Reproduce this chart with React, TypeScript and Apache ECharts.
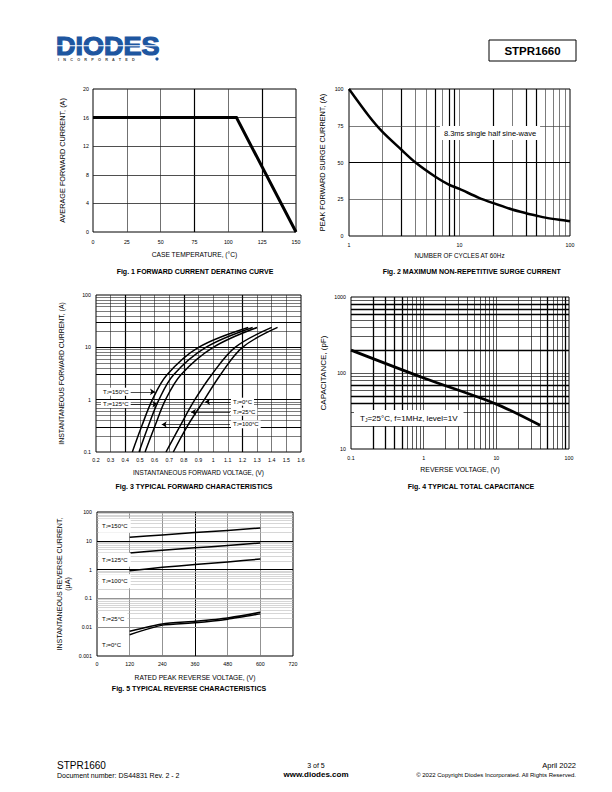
import React, { useEffect, useRef } from "react";
import * as echarts from "echarts";

const FONT = '"Liberation Sans", Arial, Helvetica, sans-serif';

// ---------- Fig. 1 Forward current derating curve ----------
const fig1Temperature = [0, 106, 150];
const fig1Current = [16, 16, 0];

// ---------- Fig. 2 Maximum non-repetitive surge current ----------
const fig2Cycles = [1, 1.5, 2, 3, 4, 6, 8, 10, 15, 20, 30, 40, 50, 60, 80, 100];
const fig2Current = [100, 82, 71, 58.5, 50, 40.5, 35, 32, 26, 22.5, 18, 15.5, 13.8, 12.5, 11, 10];

// ---------- Fig. 3 Typical forward characteristics ----------
const fig3Current = [0.1, 0.3, 1, 3, 10, 24];
const fig3V150 = [0.448, 0.51, 0.585, 0.685, 0.9, 1.24];
const fig3V125 = [0.494, 0.555, 0.63, 0.73, 0.95, 1.27];
const fig3V100 = [0.535, 0.6, 0.675, 0.78, 1.0, 1.3];
const fig3V25 = [0.678, 0.77, 0.875, 0.99, 1.15, 1.4];
const fig3V0 = [0.728, 0.82, 0.94, 1.05, 1.2, 1.44];
const fig3LabelTemps = ["150", "125", "0", "25", "100"];
const fig3ArrowFrom = [0.42, 0.415, 1.115, 1.115, 1.115];
const fig3ArrowTo = [0.603, 0.619, 0.945, 0.849, 0.649];
const fig3ArrowCurrent = [1.41, 0.82, 0.91, 0.58, 0.335];

// ---------- Fig. 4 Typical total capacitance ----------
const fig4Voltage = [0.1, 1, 10, 40];
const fig4Capacitance = [200, 86, 39, 20.5];

// ---------- Fig. 5 Typical reverse characteristics ----------
const fig5Voltage = [120, 240, 360, 480, 600];
const fig5I150 = [13.2, 16, 19.3, 23, 27.8];
const fig5I125 = [3.75, 4.7, 5.7, 6.9, 8.4];
const fig5I100 = [0.92, 1.2, 1.5, 1.85, 2.33];
const fig5I25 = [0.0072, 0.0129, 0.016, 0.021, 0.033];
const fig5I0 = [0.0055, 0.0118, 0.0143, 0.019, 0.029];
const fig5LabelTemps = ["150", "125", "100", "25", "0"];

// ---------- grid line positions ----------
const decadeMinors = (from: number, to: number) => {
  const out: number[] = [];
  for (let e = from; e < to; e++) for (let k = 2; k <= 9; k++) out.push(k * Math.pow(10, e));
  return out;
};
const fig1GridX = [25, 50, 75, 100, 125];
const fig1GridXBold = [75, 125];
const fig1GridY = [4, 8, 12, 16];
const fig2GridX = [...decadeMinors(0, 2), 10];
const fig2GridXBold = [3, 6, 8, 9, 20, 40, 50];
const fig2GridY = [25, 50, 75];
const fig2GridYBold = [50];
const fig3GridX = [0.3, 0.4, 0.5, 0.6, 0.7, 0.8, 0.9, 1.0, 1.1, 1.2, 1.3, 1.4, 1.5];
const fig3GridXBold = [0.4, 0.8, 1.2];
const fig3GridY = [...decadeMinors(-1, 2), 1, 10];
const fig3GridYBold = [0.3, 1, 3, 10, 30];
const fig4GridX = [...decadeMinors(-1, 2), 1, 10];
const fig4GridXBold = [0.2, 0.3, 0.4, 0.5, 50, 90];
const fig4GridY = [...decadeMinors(1, 3), 100];
const fig4GridYBold = [40, 50, 70, 200, 600, 700, 800];
const fig5GridX = [120, 240, 360, 480, 600];
const fig5GridXBold = [360];
const fig5GridY = [...decadeMinors(-3, 2), 0.01, 0.1, 1, 10];
const fig5GridYBold = [1, 10];
const fig5GridYMid = [0.01, 0.1];

const zip = (xs: number[], ys: number[]) => xs.map((x, i) => [x, ys[i]]);
const has = (arr: number[], v: number) =>
  arr.some((b) => Math.abs(b - v) < 1e-9 * Math.max(1, Math.abs(v)));

type LS = { color: string; width: number; type: "solid" };
const ls = (color: string, width: number): LS => ({ color, width, type: "solid" });

function gridSeries(idx: number, xs: number[], ys: number[], styleX: (v: number) => LS, styleY: (v: number) => LS) {
  return {
    type: "line",
    xAxisIndex: idx,
    yAxisIndex: idx,
    data: [],
    silent: true,
    z: 1,
    markLine: {
      silent: true,
      animation: false,
      symbol: ["none", "none"],
      label: { show: false },
      emphasis: { disabled: true },
      z: 1,
      data: [
        ...xs.map((v) => ({ xAxis: v, lineStyle: styleX(v) })),
        ...ys.map((v) => ({ yAxis: v, lineStyle: styleY(v) })),
      ],
    },
  };
}

function curve(idx: number, data: number[][], width: number, smooth: number | boolean) {
  return {
    type: "line",
    xAxisIndex: idx,
    yAxisIndex: idx,
    data,
    symbol: "none",
    showSymbol: false,
    smooth,
    silent: true,
    z: 3,
    lineStyle: { color: "#000", width, cap: "butt", join: "miter" },
  };
}

const plainNumber = (v: number) => String(+Number(v).toPrecision(6));

const tickLabel = (margin: number) => ({
  fontSize: 5.3,
  color: "#000",
  fontFamily: FONT,
  margin,
  formatter: plainNumber,
});

function xAx(idx: number, extra: any, name: string, nameGap: number, nameSize: number, margin: number) {
  return {
    gridIndex: idx,
    axisLine: { show: false },
    axisTick: { show: false },
    splitLine: { show: false },
    axisLabel: { ...tickLabel(margin), interval: 0, hideOverlap: false },
    name,
    nameLocation: "middle",
    nameGap,
    nameMoveOverlap: false,
    nameTextStyle: { fontSize: nameSize, color: "#000", fontFamily: FONT },
    ...extra,
  };
}
function yAx(idx: number, extra: any, name: string, nameGap: number, nameSize: number, margin: number) {
  return {
    gridIndex: idx,
    axisLine: { show: false },
    axisTick: { show: false },
    splitLine: { show: false },
    axisLabel: { ...tickLabel(margin), interval: 0, hideOverlap: false },
    name,
    nameLocation: "middle",
    nameGap,
    nameMoveOverlap: false,
    nameTextStyle: { fontSize: nameSize, color: "#000", fontFamily: FONT, lineHeight: nameSize + 1 },
    ...extra,
  };
}

const tj = (t: string, size: number) => ({
  text: `{t|T}{s|J}{t|=${t}°C}`,
  rich: {
    t: { fontSize: size, fontFamily: FONT, fill: "#000", verticalAlign: "bottom" },
    s: { fontSize: size * 0.6, fontFamily: FONT, fill: "#000", verticalAlign: "bottom" },
  },
});

function txt(x: number, y: number, text: string, size: number, align = "center", weight = "normal", extra: any = {}) {
  return {
    type: "text",
    x,
    y,
    z: 50,
    silent: true,
    style: {
      text,
      fontSize: size,
      fontWeight: weight,
      fontFamily: FONT,
      fill: "#000",
      align,
      verticalAlign: "middle",
      ...extra,
    },
  };
}

function buildOption() {
  const gridBase = {
    show: true,
    borderColor: "#000",
    borderWidth: 1,
    backgroundColor: "transparent",
    containLabel: false,
    outerBoundsMode: "none",
  };

  const fig3Series = [fig3V150, fig3V125, fig3V100, fig3V25, fig3V0].map((vs) =>
    curve(2, zip(vs, fig3Current), 1.5, 0.35)
  );
  const fig5Series = [fig5I150, fig5I125, fig5I100, fig5I25, fig5I0].map((is) =>
    curve(4, zip(fig5Voltage, is), 1.5, 0.2)
  );

  const fig3Arrows = {
    type: "line",
    xAxisIndex: 2,
    yAxisIndex: 2,
    data: [],
    silent: true,
    z: 4,
    markLine: {
      silent: true,
      animation: false,
      label: { show: false },
      emphasis: { disabled: true },
      symbol: ["none", "arrow"],
      symbolSize: 5,
      lineStyle: { color: "#000", width: 0.7, type: "solid" },
      itemStyle: { color: "#000" },
      z: 4,
      data: fig3ArrowFrom.map((f, i) => [
        { coord: [f, fig3ArrowCurrent[i]] },
        { coord: [fig3ArrowTo[i], fig3ArrowCurrent[i]] },
      ]),
    },
  };

  const fig3LabelPos = [
    [101, 391.7],
    [101, 404],
    [231, 401.7],
    [231, 411.7],
    [231, 424.3],
  ];
  const fig5LabelY = [525.7, 559.7, 581.3, 619, 644.7];

  const labelBox = (x: number, y: number, t: string, size: number, pad: number[]) => ({
    type: "text",
    x,
    y,
    z: 50,
    silent: true,
    style: {
      ...tj(t, size),
      align: "left",
      verticalAlign: "middle",
      backgroundColor: "#fff",
      padding: pad,
    },
  });

  const logoColor = "#1e56a0";

  const graphics: any[] = [
    // logo
    {
      type: "text",
      x: 56,
      y: 46,
      z: 50,
      scaleX: 1.04,
      silent: true,
      style: {
        text: "DIODES",
        fontSize: 26,
        fontWeight: "bold",
        fontFamily: FONT,
        fill: logoColor,
        stroke: logoColor,
        lineWidth: 1.2,
        align: "left",
        verticalAlign: "middle",
      },
    },
    { type: "rect", z: 51, silent: true, shape: { x: 55, y: 45.2, width: 106, height: 1 }, style: { fill: "#fff" } },
    {
      type: "text",
      x: 58,
      y: 59.5,
      z: 50,
      silent: true,
      style: {
        text: "I    N    C    O    R    P    O    R    A    T    E    D",
        fontSize: 3.8,
        fontWeight: "bold",
        fontFamily: FONT,
        fill: "#444",
        align: "left",
        verticalAlign: "middle",
      },
    },
    { type: "circle", z: 50, silent: true, shape: { cx: 157, cy: 59, r: 1.6 }, style: { fill: logoColor } },
    // header box
    { type: "rect", z: 50, silent: true, shape: { x: 489, y: 40, width: 87, height: 21 }, style: { fill: "none", stroke: "#000", lineWidth: 1 } },
    txt(532.5, 50.8, "STPR1660", 11.5, "center", "bold"),
    // captions
    txt(195, 271, "Fig. 1 FORWARD CURRENT DERATING CURVE", 7, "center", "bold"),
    txt(471.7, 271, "Fig. 2 MAXIMUM NON-REPETITIVE SURGE CURRENT", 7, "center", "bold"),
    txt(194, 486.3, "Fig. 3 TYPICAL FORWARD CHARACTERISTICS", 7, "center", "bold"),
    txt(471, 486, "Fig. 4 TYPICAL TOTAL CAPACITANCE", 7, "center", "bold"),
    txt(189, 688, "Fig. 5 TYPICAL REVERSE CHARACTERISTICS", 7, "center", "bold"),
    // fig 2 note
    txt(490, 133, "8.3ms single half sine-wave", 7.5, "center", "normal", { backgroundColor: "#fff", padding: [3, 4] }),
    // fig 4 note
    {
      type: "text",
      x: 354,
      y: 418,
      z: 50,
      silent: true,
      style: {
        text: "{t|T}{s|J}{t|=25°C, f=1MHz, level=1V}",
        rich: {
          t: { fontSize: 8, fontFamily: FONT, fill: "#000", verticalAlign: "bottom" },
          s: { fontSize: 5, fontFamily: FONT, fill: "#000", verticalAlign: "bottom" },
        },
        align: "left",
        verticalAlign: "middle",
        backgroundColor: "#fff",
        padding: [4, 6],
      },
    },
    // fig 3 labels
    ...fig3LabelTemps.map((t, i) => labelBox(fig3LabelPos[i][0], fig3LabelPos[i][1], t, 6, [1, 2])),
    // fig 5 labels
    ...fig5LabelTemps.map((t, i) => labelBox(99, fig5LabelY[i], t, 6, [4, 3])),
    // footer
    txt(57, 765, "STPR1660", 10, "left"),
    txt(57, 775, "Document number: DS44831 Rev. 2 - 2", 7, "left"),
    txt(316, 765, "3 of 5", 7, "center"),
    txt(316, 774.5, "www.diodes.com", 8, "center", "bold"),
    txt(576, 765, "April 2022", 7.5, "right"),
    txt(576, 775, "© 2022 Copyright Diodes Incorporated. All Rights Reserved.", 6, "right"),
  ];

  return {
    animation: false,
    backgroundColor: "#fff",
    textStyle: { fontFamily: FONT },
    grid: [
      { ...gridBase, left: 93, top: 89, width: 203, height: 143 },
      { ...gridBase, left: 349, top: 89, width: 221, height: 147 },
      { ...gridBase, left: 96, top: 295, width: 205, height: 157 },
      { ...gridBase, left: 351, top: 297, width: 218, height: 152 },
      { ...gridBase, left: 97, top: 512, width: 196, height: 144 },
    ],
    xAxis: [
      xAx(0, { type: "value", min: 0, max: 150, interval: 25 }, "CASE TEMPERATURE, (°C)", 18.5, 6.7, 7.5),
      xAx(1, { type: "log", logBase: 10, min: 1, max: 100 }, "NUMBER OF CYCLES AT 60Hz", 16.5, 6.3, 6.5),
      xAx(2, { type: "value", min: 0.2, max: 1.6, interval: 0.1 }, "INSTANTANEOUS FORWARD VOLTAGE, (V)", 17.5, 6.4, 5),
      xAx(3, { type: "log", logBase: 10, min: 0.1, max: 100 }, "REVERSE VOLTAGE, (V)", 17, 6.9, 6.5),
      xAx(4, { type: "value", min: 0, max: 720, interval: 120 }, "RATED PEAK REVERSE VOLTAGE, (V)", 17.5, 6.7, 5.5),
    ],
    yAxis: [
      yAx(0, { type: "value", min: 0, max: 20, interval: 4 }, "AVERAGE FORWARD CURRENT, (A)", 26, 7.3, 4),
      yAx(1, { type: "value", min: 0, max: 100, interval: 25 }, "PEAK FORWARD SURGE CURRENT, (A)", 22, 7.3, 5.5),
      yAx(2, { type: "log", logBase: 10, min: 0.1, max: 100 }, "INSTANTANEOUS FORWARD CURRENT, (A)", 30.5, 6.9, 5),
      yAx(3, { type: "log", logBase: 10, min: 10, max: 1000 }, "CAPACITANCE, (pF)", 23, 8, 5),
      yAx(4, { type: "log", logBase: 10, min: 0.001, max: 100 }, "INSTANTANEOUS REVERSE CURRENT,\n(µA)", 25, 7.1, 5),
    ],
    series: [
      gridSeries(
        0,
        fig1GridX,
        fig1GridY,
        (v) => (has(fig1GridXBold, v) ? ls("#000", 1.2) : ls("#333", 0.7)),
        () => ls("#222", 0.8)
      ),
      gridSeries(
        1,
        fig2GridX,
        fig2GridY,
        (v) => (has(fig2GridXBold, v) ? ls("#000", 1.2) : ls("#444", 0.7)),
        (v) => (has(fig2GridYBold, v) ? ls("#000", 1.2) : ls("#444", 0.7))
      ),
      gridSeries(
        2,
        fig3GridX,
        fig3GridY,
        (v) => (has(fig3GridXBold, v) ? ls("#000", 1.2) : ls("#222", 0.6)),
        (v) => (has(fig3GridYBold, v) ? ls("#000", 1.2) : ls("#222", 0.6))
      ),
      gridSeries(
        3,
        fig4GridX,
        fig4GridY,
        (v) => (has(fig4GridXBold, v) ? ls("#000", 1.3) : ls("#111", 0.7)),
        (v) => (has(fig4GridYBold, v) ? ls("#000", 1.3) : ls("#111", 0.7))
      ),
      gridSeries(
        4,
        fig5GridX,
        fig5GridY,
        (v) => (has(fig5GridXBold, v) ? ls("#000", 1) : ls("#777", 0.8)),
        (v) =>
          has(fig5GridYBold, v) ? ls("#000", 1) : has(fig5GridYMid, v) ? ls("#888", 0.9) : ls("#bbb", 0.6)
      ),
      curve(0, zip(fig1Temperature, fig1Current), 3, false),
      curve(1, zip(fig2Cycles, fig2Current), 2.5, 0.3),
      ...fig3Series,
      fig3Arrows,
      curve(3, zip(fig4Voltage, fig4Capacitance), 2.8, 0.3),
      ...fig5Series,
    ],
    graphic: { elements: graphics },
  };
}

export default function App() {
  const ref = useRef<HTMLDivElement>(null);
  useEffect(() => {
    if (!ref.current) return;
    const chart = echarts.init(ref.current, null, { renderer: "svg", width: 612, height: 792 });
    chart.setOption(buildOption() as any);
    return () => chart.dispose();
  }, []);
  return (
    <div
      ref={ref}
      style={{ position: "absolute", left: 0, top: 0, width: 612, height: 792, background: "#fff" }}
    />
  );
}
